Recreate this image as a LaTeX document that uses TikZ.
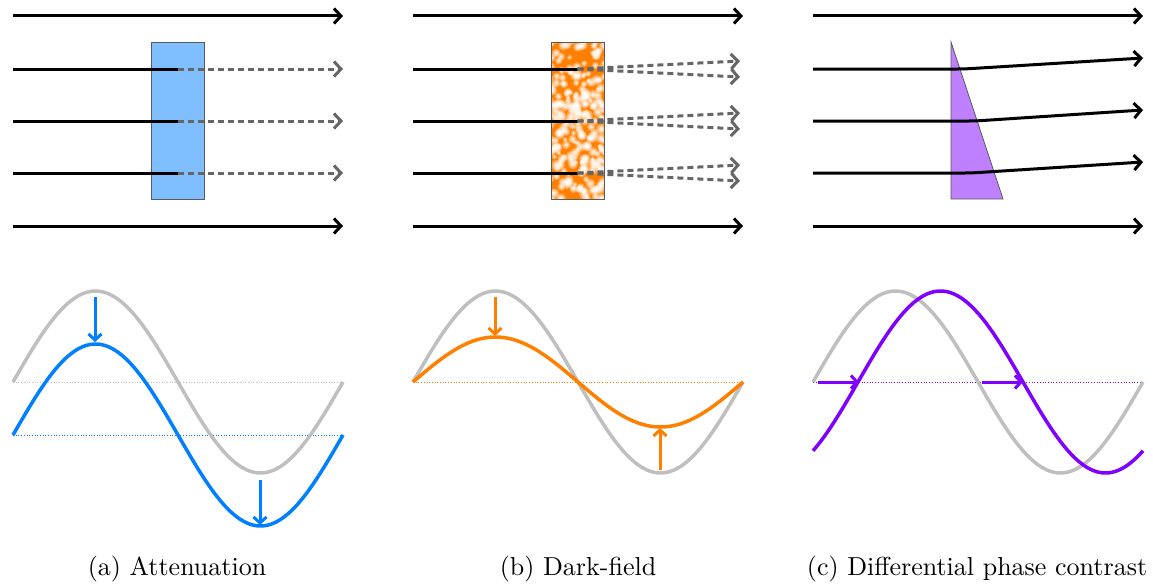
\documentclass[tikz,border=0pt]{standalone}
\usetikzlibrary{arrows.meta}

\definecolor{absorbfill}{RGB}{128,191,255}
\definecolor{absorbwave}{RGB}{0,128,255}
\definecolor{scatter}{RGB}{255,128,0}
\definecolor{phase}{RGB}{128,0,255}
\definecolor{prismfill}{RGB}{191,128,255}
\definecolor{refwave}{RGB}{191,191,191}
\definecolor{weakbeam}{RGB}{102,102,102}
\definecolor{sampleedge}{RGB}{90,90,90}

\begin{document}
\begin{tikzpicture}[x=1pt,y=-1pt,
  beamline/.style={line width=3pt,black},
  beam/.style={beamline,-{Straight Barb[length=7pt,width=15pt]}},
  dashbeam/.style={line width=3pt,weakbeam,dash pattern=on 6pt off 4pt,
    -{Straight Barb[length=7pt,width=15pt]}},
  sample/.style={draw=sampleedge,line width=0.8pt,inner sep=0pt,
    minimum width=53pt,minimum height=157pt},
  wave/.style={line width=3.5pt},
  axisline/.style={line width=0.7pt,dotted},
  wavechange/.style={line width=3pt,-{Straight Barb[length=6pt,width=13pt]}},
  caption/.style={scale=2.6,anchor=base,inner sep=0pt}]
\useasboundingbox (0,0) rectangle (1153,586);

% beam entry and exit points of the three panels
\foreach \p/\x in {a/13,b/413,c/813}{
  \foreach \y/\n in {16/1,69/2,121/3,173/4,226/5}{
    \coordinate (\p\n-in) at (\x,\y);
    \coordinate (\p\n-out) at (\x+330,\y);
  }
}

% ---------- (a) attenuation ----------
\node[sample,fill=absorbfill] (absorber) at (177.5,120.5) {};
\foreach \n in {1,5} \draw[beam] (a\n-in) -- (a\n-out);
\foreach \n in {2,3,4}{
  \draw[beamline] (a\n-in) -- (absorber.center |- a\n-in);
  \draw[dashbeam] (absorber.center |- a\n-in) -- (a\n-out);
}

% ---------- (b) dark-field ----------
% speckled scattering medium: orange ground with soft white grains
\begin{scope}
  \clip (551,42) rectangle (604,199);
  \fill[scatter] (551,42) rectangle (604,199);
  \pgfmathsetseed{1234}
  \foreach \i in {1,...,260}{
    \pgfmathsetmacro\bx{548+59*rnd}
    \pgfmathsetmacro\by{39+163*rnd}
    \pgfmathsetmacro\br{2.2+3.4*rnd}
    \pgfmathsetmacro\bm{0.7*\br}
    \pgfmathsetmacro\bs{0.4*\br}
    \fill[white,opacity=0.28] (\bx,\by) circle[radius=\br pt];
    \fill[white,opacity=0.4] (\bx,\by) circle[radius=\bm pt];
    \fill[white,opacity=0.6] (\bx,\by) circle[radius=\bs pt];
  }
\end{scope}
\node[sample] (scatterer) at (577.5,120.5) {};
\foreach \n in {1,5} \draw[beam] (b\n-in) -- (b\n-out);
\foreach \n/\y in {2/69,3/121,4/173}{
  \coordinate (b\n-up) at (740,\y-8);
  \coordinate (b\n-dn) at (740,\y+8);
  \draw[beamline] (b\n-in) -- (scatterer.center |- b\n-in);
  \draw[dashbeam] (scatterer.center |- b\n-in) -- (b\n-up);
  \draw[dashbeam] (scatterer.center |- b\n-in) -- (b\n-dn);
}

% ---------- (c) differential phase contrast ----------
\coordinate (prism-top) at (951,42);
\coordinate (prism-base) at (951,199);
\coordinate (prism-tip) at (1003,199);
\filldraw[fill=prismfill,draw=sampleedge,line width=0.8pt]
  (prism-top) -- (prism-base) -- (prism-tip) -- cycle;
\foreach \n in {1,5} \draw[beam] (c\n-in) -- (c\n-out);
\foreach \n/\y/\bx/\ey in {2/69/964/58,3/121/975/110,4/173/971/162}{
  \coordinate (c\n-bend) at (\bx,\y);
  \coordinate (c\n-ref) at (1143,\ey);
  \draw[beam,rounded corners=6pt] (c\n-in) -- (c\n-bend) -- (c\n-ref);
}

% ---------- waves ----------
% (a) attenuation: the wave is lowered
\coordinate (wa-l) at (13,382);  \coordinate (wa-r) at (343,382);
\coordinate (wa-l2) at (13,435); \coordinate (wa-r2) at (343,435);
\draw[axisline,refwave] (wa-l) -- (wa-r);
\draw[axisline,absorbwave] (wa-l2) -- (wa-r2);
\draw[wave,refwave] plot[domain=13:343,samples=120,smooth]
  (\x,{382-91*sin((\x-13)/330*360)});
\draw[wave,absorbwave] plot[domain=13:343,samples=120,smooth]
  (\x,{435-91*sin((\x-13)/330*360)});
\coordinate (sa1) at (95,297);  \coordinate (ea1) at (95,342);
\coordinate (sa2) at (260,480); \coordinate (ea2) at (260,525);
\draw[wavechange,absorbwave] (sa1) -- (ea1);
\draw[wavechange,absorbwave] (sa2) -- (ea2);

% (b) dark-field: the amplitude shrinks
\coordinate (wb-l) at (413,382); \coordinate (wb-r) at (743,382);
\draw[axisline,scatter] (wb-l) -- (wb-r);
\draw[wave,refwave] plot[domain=413:743,samples=120,smooth]
  (\x,{382-91*sin((\x-413)/330*360)});
\draw[wave,scatter] plot[domain=413:743,samples=120,smooth]
  (\x,{382-45*sin((\x-413)/330*360)});
\coordinate (sb1) at (495,297); \coordinate (eb1) at (495,336);
\coordinate (sb2) at (660,470); \coordinate (eb2) at (660,428);
\draw[wavechange,scatter] (sb1) -- (eb1);
\draw[wavechange,scatter] (sb2) -- (eb2);

% (c) differential phase contrast: the wave is shifted
\coordinate (wc-l) at (813,382); \coordinate (wc-r) at (1143,382);
\draw[axisline,phase] (wc-l) -- (wc-r);
\draw[wave,refwave] plot[domain=813:1143,samples=120,smooth]
  (\x,{382-91*sin((\x-813)/330*360)});
\draw[wave,phase] plot[domain=813:1143,samples=120,smooth]
  (\x,{382-91*sin((\x-858)/330*360)});
\coordinate (sc1) at (818,382); \coordinate (ec1) at (859,382);
\coordinate (sc2) at (982,382); \coordinate (ec2) at (1023,382);
\draw[wavechange,phase] (sc1) -- (ec1);
\draw[wavechange,phase] (sc2) -- (ec2);

% ---------- captions ----------
\node[caption] (cap-a) at (177,575) {(a) Attenuation};
\node[caption] (cap-b) at (578,575) {(b) Dark-field};
\node[caption] (cap-c) at (977,575) {(c) Differential phase contrast};
\end{tikzpicture}
\end{document}
